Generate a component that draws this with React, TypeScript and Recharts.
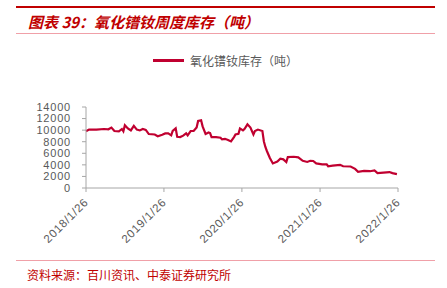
import { CartesianGrid, Legend, Line, LineChart, XAxis, YAxis } from "recharts";

// week offsets from 2018/1/26 (weekly survey)
const weeks = [
  0, 2, 7, 12, 15, 17, 19, 22, 24, 25, 26, 28, 30, 32, 34, 36, 38, 40, 42, 46,
  48, 51, 53, 55, 57, 58, 60, 61, 63, 65, 67, 68, 70, 72, 74, 75, 77, 78, 80,
  82, 83, 84, 87, 90, 91, 93, 95, 97, 99, 100, 102, 103, 105, 106, 108, 110,
  112, 113, 115, 118, 119, 120, 121, 123, 125, 128, 130, 132, 134, 135, 139,
  142, 145, 148, 150, 152, 154, 158, 161, 162, 165, 170, 172, 177, 180, 182,
  186, 190, 193, 195, 199, 203, 205, 208,
];

const inventory = [
  9800, 10100, 10100, 10200, 10150, 10450, 9850, 9800, 10200, 9800, 10850,
  10300, 9950, 10750, 10100, 9950, 10200, 10050, 9330, 9250, 8950, 9200, 9430,
  9430, 9100, 9850, 10300, 8850, 8800, 9050, 9450, 9100, 9850, 9850, 10450,
  11600, 11700, 10650, 9350, 9600, 9500, 8800, 8800, 8700, 8400, 8500, 8300,
  8050, 8800, 9250, 9350, 10300, 9950, 10200, 11000, 10450, 9250, 9850, 10100,
  9850, 8050, 7100, 6400, 5200, 4250, 4570, 5050, 4950, 4500, 5330, 5400, 5300,
  4700, 4500, 4700, 4670, 4250, 4100, 4100, 3760, 3860, 4000, 3760, 3720, 3300,
  2800, 2950, 2900, 3050, 2580, 2670, 2760, 2570, 2400,
];

const tickYears = [2018, 2019, 2020, 2021, 2022];
const yTicks = [0, 2000, 4000, 6000, 8000, 10000, 12000, 14000];

const SERIES = "氧化镨钕库存（吨）";
const RED = "#c00030";
const GRAY = "#595959";
const AXIS = "#a6a6a6";
const NUM_FONT = "'Liberation Sans', Arial, sans-serif";

const DAY = 86400000;
const start = Date.UTC(2018, 0, 26);
const xTicks = tickYears.map((y) => Date.UTC(y, 0, 26));

const data = weeks.map((w, i) => ({ t: start + w * 7 * DAY, v: inventory[i] }));

function fmtDate(t: number) {
  const d = new Date(t);
  return `${d.getUTCFullYear()}/${d.getUTCMonth() + 1}/${d.getUTCDate()}`;
}

function XTick(props: any) {
  const { x, y, payload } = props;
  return (
    <text
      x={x + 3}
      y={y + 9}
      transform={`rotate(-45 ${x + 3} ${y + 9})`}
      textAnchor="end"
      fill={GRAY}
      fontSize={11.5}
      letterSpacing={0.7}
      fontFamily={NUM_FONT}
    >
      {fmtDate(payload.value)}
    </text>
  );
}

function LegendBox() {
  return (
    <div style={{ display: "flex", alignItems: "center", marginLeft: 153 }}>
      <span style={{ display: "inline-block", width: 31, height: 2.5, background: RED }} />
      <span style={{ marginLeft: 6, fontSize: 12, color: GRAY, fontFamily: "'Noto Sans CJK SC'" }}>
        {SERIES}
      </span>
    </div>
  );
}

export default function App() {
  return (
    <div
      style={{
        position: "absolute",
        left: 0,
        top: 0,
        width: 447,
        height: 288,
        background: "#fff",
        fontFamily: "'Noto Sans CJK SC', sans-serif",
      }}
    >
      <div style={{ position: "absolute", left: 16, top: 6, width: 419, height: 2, background: "#c00000" }} />
      <div
        style={{
          position: "absolute",
          left: 28,
          top: 11,
          fontSize: 15,
          fontWeight: 700,
          fontStyle: "italic",
          color: "#c00000",
          whiteSpace: "nowrap",
        }}
      >
        图表 39：氧化镨钕周度库存（吨）
      </div>
      <div style={{ position: "absolute", left: 16, top: 33, width: 419, height: 1, background: "#f0a0a8" }} />

      <div style={{ position: "absolute", left: 0, top: 0 }}>
        <LineChart width={447} height={288} data={data} margin={{ top: 90, right: 49, left: 0, bottom: 0 }}>
          <CartesianGrid stroke="none" />
          <XAxis
            dataKey="t"
            type="number"
            scale="time"
            domain={[xTicks[0], xTicks[xTicks.length - 1]]}
            ticks={xTicks}
            interval={0}
            height={100}
            stroke={AXIS}
            tickSize={4}
            tick={<XTick />}
          />
          <YAxis
            domain={[0, 14000]}
            ticks={yTicks}
            interval={0}
            width={86}
            stroke={AXIS}
            tickSize={4}
            tickMargin={11}
            tick={{ fill: GRAY, fontSize: 11, letterSpacing: 0.8, fontFamily: NUM_FONT }}
          />
          <Legend
            verticalAlign="top"
            align="left"
            content={() => <LegendBox />}
            wrapperStyle={{ top: 52, left: 0, width: 447 }}
          />
          <Line
            type="linear"
            dataKey="v"
            name={SERIES}
            stroke={RED}
            strokeWidth={2.2}
            dot={false}
            isAnimationActive={false}
          />
        </LineChart>
      </div>

      <div style={{ position: "absolute", left: 16, top: 260, width: 419, height: 1, background: "#f0a0a8" }} />
      <div
        style={{
          position: "absolute",
          left: 27,
          top: 266,
          fontSize: 12,
          color: "#c00000",
          whiteSpace: "nowrap",
        }}
      >
        资料来源：百川资讯、中泰证券研究所
      </div>
    </div>
  );
}
